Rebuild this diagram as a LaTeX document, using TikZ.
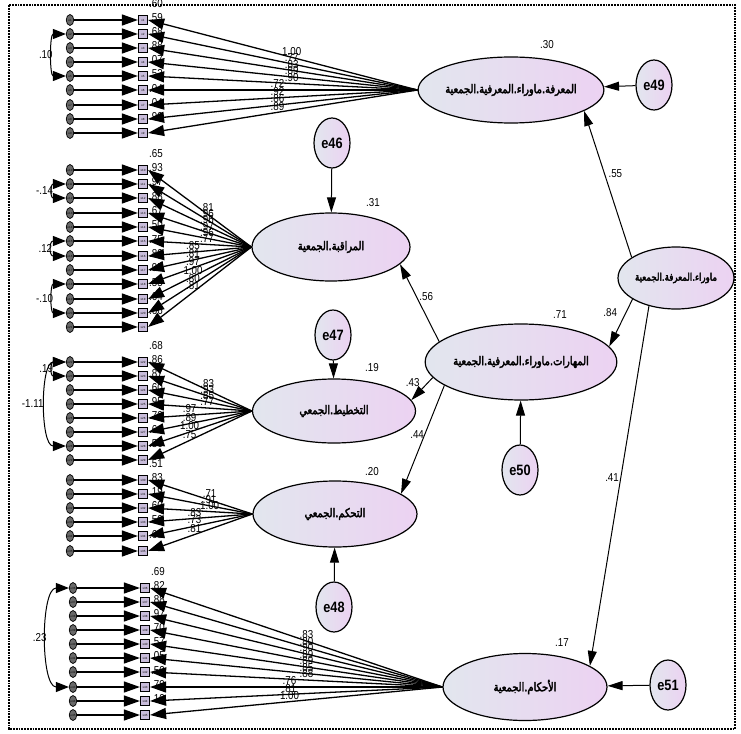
\documentclass[tikz,border=0pt]{standalone}
\usepackage{fontspec}
\setmainfont{Liberation Sans}
\newfontfamily\numfont[FakeStretch=0.85]{Liberation Sans}
\newfontfamily\arabicfont[Script=Arabic,FakeStretch=0.82,FakeBold=3]{DejaVu Sans}
\TeXXeTstate=1
\usetikzlibrary{shapes.geometric,arrows.meta,calc}

\definecolor{latleft}{RGB}{226,230,238}
\definecolor{latright}{RGB}{236,210,242}
\definecolor{boxfill}{RGB}{200,188,218}
\definecolor{errfill}{RGB}{105,105,105}

\tikzset{
  latent/.style={ellipse, draw, line width=1.2pt, left color=latleft, right color=latright, inner sep=0pt, font=\arabicfont\fontsize{12}{13}\selectfont},
  errbig/.style={ellipse, draw, line width=1.2pt, left color=latleft, right color=latright, minimum width=36pt, minimum height=50pt, inner sep=0pt, font=\numfont\bfseries\fontsize{15}{15}\selectfont},
  errsmall/.style={ellipse, draw, line width=0.7pt, fill=errfill, minimum width=7.5pt, minimum height=11pt, inner sep=0pt, font=\fontsize{3}{3}\selectfont},
  obsbox/.style={rectangle, draw, line width=0.7pt, fill=boxfill, minimum width=9.5pt, minimum height=9pt, inner sep=0pt, font=\fontsize{3}{3}\selectfont},
  indarr/.style={-{Triangle[length=16pt,width=11pt]}, line width=1.3pt},
  patharr/.style={-{Triangle[length=15pt,width=9pt]}, line width=1pt},
  covarr/.style={{Triangle[length=13pt,width=10pt]}-{Triangle[length=13pt,width=10pt]}, line width=1pt},
  coef/.style={font=\numfont\fontsize{11.5}{11.5}\selectfont, inner sep=0.5pt},
}
\newcommand{\artext}[1]{\beginR #1\endR}

\begin{document}
\begin{tikzpicture}[x=1pt,y=-1pt]
  \useasboundingbox (0,0) rectangle (741,733);
  \draw[line width=1.8pt, densely dotted] (9,5) rectangle (735,729);

  % latent variables
  \node[latent, minimum width=162pt, minimum height=66pt] (F1) at (511,90) {\artext{المعرفة.ماوراء.المعرفية.الجمعية}};
  \node[latent, minimum width=158pt, minimum height=68pt] (F2) at (331,247) {\artext{المراقبة.الجمعية}};
  \node[latent, minimum width=163pt, minimum height=64pt] (F3) at (334,411) {\artext{التخطيط.الجمعي}};
  \node[latent, minimum width=164pt, minimum height=66pt] (F4) at (335,514) {\artext{التحكم.الجمعي}};
  \node[latent, minimum width=164pt, minimum height=67pt] (F5) at (525,687) {\artext{الأحكام.الجمعية}};
  \node[latent, minimum width=116pt, minimum height=62pt, font=\arabicfont\fontsize{10.5}{12}\selectfont] (HO) at (676,278) {\artext{ماوراء.المعرفة.الجمعية}};
  \node[latent, minimum width=184pt, minimum height=76pt] (SK) at (521,362) {\artext{المهارات.ماوراء.المعرفية.الجمعية}};

  % disturbances
  \node[errbig] (e46) at (332,143) {e46};
  \node[errbig] (e47) at (333,335) {e47};
  \node[errbig] (e48) at (334,607) {e48};
  \node[errbig] (e49) at (654,85) {e49};
  \node[errbig] (e50) at (520,470) {e50};
  \node[errbig] (e51) at (668,685) {e51};

  % squared multiple correlations
  \node[coef] (rF1) at (547,45) {.30};
  \node[coef] (rF2) at (373,203) {.31};
  \node[coef] (rF3) at (372,368) {.19};
  \node[coef] (rF4) at (372,472) {.20};
  \node[coef] (rF5) at (562,643) {.17};
  \node[coef] (rSK) at (560,315) {.71};

  % indicators of F1
  \foreach \y/\ldg/\rr/\p [count=\i] in {20/1.00/.60/.467, 34/.77/.59/.467, 48/.83/.68/.467, 62/.89/.88/.467, 76/.90/.07/.467, 90/.72/.52/.52, 105/.92/.04/.52, 119/.86/.04/.52, 133/.89/.90/.52} {
    \pgfmathtruncatemacro{\n}{\i}
    \node[errsmall] (e\n) at (70,\y) {e\n};
    \node[obsbox] (x\n) at (143,\y) {x\n};
    \node[coef] (r\n) at ($(x\n)+(13,-16)$) {\rr};
    \draw[indarr] (e\n) -- (x\n);
    \draw[indarr] (F1.west) -- (x\n.east) node[coef, pos=\p, above=1pt] {\ldg};
  }
  % indicators of F2
  \foreach \y/\ldg/\rr/\p [count=\i] in {170/.81/.65/.43, 184/.96/.93/.43, 198/.96/.97/.43, 213/.97/.88/.43, 227/.96/.67/.43, 241/.77/.50/.43, 256/.85/.75/.565, 270/.81/.80/.565, 284/.97/.95/.565, 299/1.00/.55/.565, 313/.80/.64/.565, 327/.81/.66/.565} {
    \pgfmathtruncatemacro{\n}{\i+9}
    \node[errsmall] (e\n) at (70,\y) {e\n};
    \node[obsbox] (x\n) at (143,\y) {x\n};
    \node[coef] (r\n) at ($(x\n)+(13,-16)$) {\rr};
    \draw[indarr] (e\n) -- (x\n);
    \draw[indarr] (F2.west) -- (x\n.east) node[coef, pos=\p, above=1pt] {\ldg};
  }
  % indicators of F3
  \foreach \y/\ldg/\rr/\p [count=\i] in {362/.83/.68/.43, 376/.93/.86/.43, 390/.85/.87/.43, 404/.77/.60/.43, 418/.97/.95/.6, 432/.89/.70/.6, 446/1.00/.64/.6, 460/.75/.56/.6} {
    \pgfmathtruncatemacro{\n}{\i+21}
    \node[errsmall] (e\n) at (70,\y) {e\n};
    \node[obsbox] (x\n) at (143,\y) {x\n};
    \node[coef] (r\n) at ($(x\n)+(13,-16)$) {\rr};
    \draw[indarr] (e\n) -- (x\n);
    \draw[indarr] (F3.west) -- (x\n.east) node[coef, pos=\p, above=1pt] {\ldg};
  }
  % indicators of F4
  \foreach \y/\ldg/\rr/\p [count=\i] in {480/.71/.51/.41, 494/.91/.83/.41, 508/1.00/.19/.41, 522/.83/.60/.555, 536/.73/.50/.555, 551/.81/.68/.555} {
    \pgfmathtruncatemacro{\n}{\i+29}
    \node[errsmall] (e\n) at (70,\y) {e\n};
    \node[obsbox] (x\n) at (143,\y) {x\n};
    \node[coef] (r\n) at ($(x\n)+(13,-16)$) {\rr};
    \draw[indarr] (e\n) -- (x\n);
    \draw[indarr] (F4.west) -- (x\n.east) node[coef, pos=\p, above=1pt] {\ldg};
  }
  % indicators of F5
  \foreach \y/\ldg/\rr/\p [count=\i] in {588/.83/.69/.465, 602/.80/.82/.465, 616/.90/.88/.465, 630/.89/.97/.465, 644/.89/.70/.465, 658/.85/.57/.465, 672/.88/.05/.465, 687/.76/.50/.523, 701/.81/.79/.523, 715/1.00/.10/.523} {
    \pgfmathtruncatemacro{\n}{\i+35}
    \node[errsmall] (e\n) at (73,\y) {e\n};
    \node[obsbox] (x\n) at (145,\y) {x\n};
    \node[coef] (r\n) at ($(x\n)+(13,-16)$) {\rr};
    \draw[indarr] (e\n) -- (x\n);
    \draw[indarr] (F5.west) -- (x\n.east) node[coef, pos=\p, above=1pt] {\ldg};
  }

  % covariances between errors
  \draw[covarr] (e2.west) to[out=180,in=180] node[coef, anchor=east] {.10} (e5.west);
  \draw[covarr] (e11.west) to[out=180,in=180,looseness=2.9] node[coef, anchor=east] {-.14} (e12.west);
  \draw[covarr] (e15.west) to[out=180,in=180,looseness=2.9] node[coef, anchor=east] {.12} (e16.west);
  \draw[covarr] (e18.west) to[out=180,in=180,looseness=1.4] node[coef, anchor=east] {-.10} (e20.west);
  \draw[covarr] (e22.west) to[out=180,in=180,looseness=2.9] node[coef, anchor=east] {.19} (e23.west);
  \draw[covarr] (e22.west) to[out=180,in=180,looseness=0.79] node[coef, left=2pt] {-1.11} (e28.west);
  \draw[covarr] (e36.west) to[out=180,in=180,looseness=0.74] node[coef, anchor=east] {.23} (e43.west);

  % structural paths
  \draw[patharr] (HO.155) -- (F1.-16) node[coef, pos=0.57, right=3pt] {.55};
  \draw[patharr] (HO.206) -- (SK.10) node[coef, pos=0.28, left=8pt] {.84};
  \draw[patharr] (HO.226) -- (F5.18) node[coef, pos=0.476, left=1pt] {.41};
  \draw[patharr] (SK.166) -- (F2.-14) node[coef, pos=0.58, right=2pt] {.56};
  \draw[patharr] (SK.190) -- (F3.8) node[coef, pos=0.2, left=8pt] {.43};
  \draw[patharr] (SK.197) -- (F4.17) node[coef, pos=0.45, left=0pt] {.44};

  % disturbance paths
  \draw[patharr] (e46) -- (F2);
  \draw[patharr] (e47) -- (F3);
  \draw[patharr] (e48) -- (F4);
  \draw[patharr] (e49) -- (F1);
  \draw[patharr] (e50) -- (SK);
  \draw[patharr] (e51) -- (F5);
\end{tikzpicture}
\end{document}
